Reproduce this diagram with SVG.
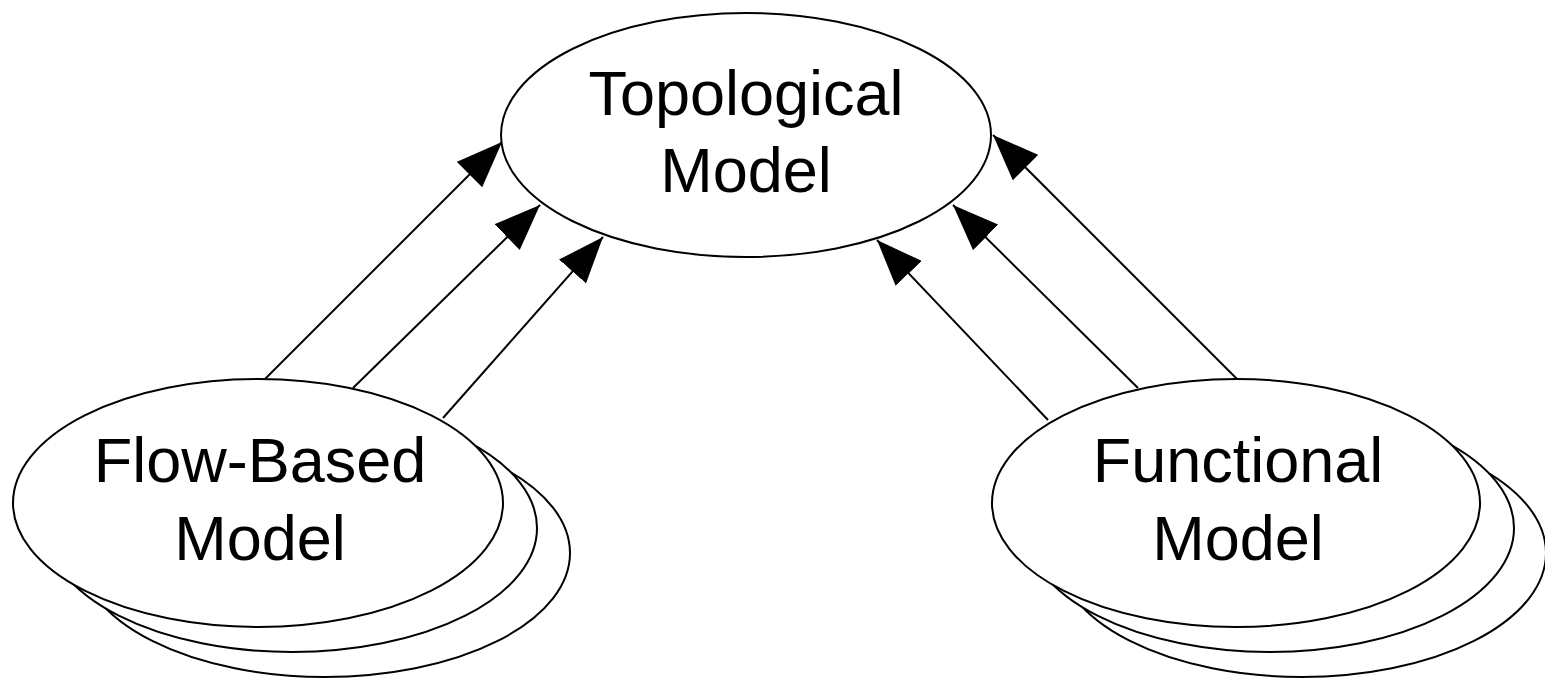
<svg xmlns="http://www.w3.org/2000/svg" width="1545" height="679" viewBox="0 0 1545 679">
  <style>
    .shape { fill: #ffffff; stroke: #000000; stroke-width: 2; }
    .label { font-family: "Liberation Sans", Arial, sans-serif; font-size: 63px; fill: #000000; text-anchor: middle; }
    .edge { stroke: #000000; stroke-width: 2; fill: none; marker-end: url(#arrow); }
  </style>
  <defs>
    <marker id="arrow" markerUnits="userSpaceOnUse" viewBox="0 0 46 36" refX="46" refY="18" markerWidth="46" markerHeight="36" orient="auto">
      <path d="M0,0 L46,18 L0,36 Z" fill="#000000"/>
    </marker>
  </defs>

  <rect width="1545" height="679" fill="#ffffff"/>

  <!-- Central model -->
  <g id="topological-model">
    <ellipse class="shape" cx="746" cy="135" rx="245" ry="122"/>
    <text class="label" x="746" y="115">Topological</text>
    <text class="label" x="746" y="192">Model</text>
  </g>

  <!-- Stack of flow-based models -->
  <g id="flow-based-model">
    <ellipse class="shape" cx="325" cy="553" rx="245" ry="124"/>
    <ellipse class="shape" cx="292" cy="528" rx="245" ry="124"/>
    <ellipse class="shape" cx="258" cy="503" rx="245" ry="124"/>
    <text class="label" x="260" y="482">Flow-Based</text>
    <text class="label" x="260" y="560">Model</text>
  </g>

  <!-- Stack of functional models -->
  <g id="functional-model">
    <ellipse class="shape" cx="1302" cy="553" rx="244" ry="124"/>
    <ellipse class="shape" cx="1270" cy="528" rx="244" ry="124"/>
    <ellipse class="shape" cx="1236" cy="503" rx="244" ry="124"/>
    <text class="label" x="1238" y="482">Functional</text>
    <text class="label" x="1238" y="560">Model</text>
  </g>

  <!-- Connectors -->
  <g id="connectors">
    <line class="edge" x1="265" y1="379" x2="502" y2="142"/>
    <line class="edge" x1="353" y1="388" x2="540" y2="205"/>
    <line class="edge" x1="443" y1="418" x2="603" y2="237"/>
    <line class="edge" x1="1237" y1="379" x2="993" y2="135"/>
    <line class="edge" x1="1138" y1="388" x2="953" y2="205"/>
    <line class="edge" x1="1048" y1="420" x2="877" y2="240"/>
  </g>
</svg>
